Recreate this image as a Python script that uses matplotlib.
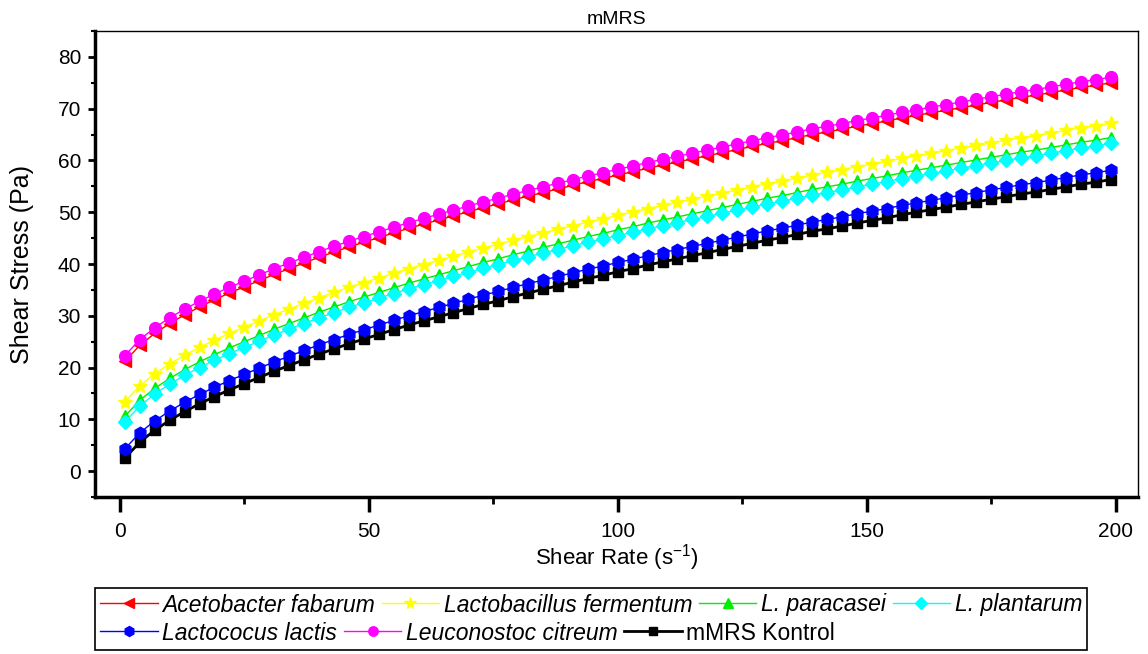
import matplotlib
matplotlib.use('Agg')
import matplotlib.pyplot as plt
from matplotlib.patches import Rectangle
from matplotlib.transforms import Bbox
from matplotlib.ticker import MultipleLocator

plt.rcParams['font.family'] = ['Liberation Sans', 'DejaVu Sans']
plt.rcParams['mathtext.fontset'] = 'custom'
plt.rcParams['mathtext.rm'] = 'Liberation Sans'
plt.rcParams['mathtext.it'] = 'Liberation Sans:italic'

# shear rate (1/s)
shear_rate = [1, 4, 7, 10, 13, 16, 19, 22, 25, 28, 31, 34, 37, 40, 43, 46, 49, 52, 55, 58,
              61, 64, 67, 70, 73, 76, 79, 82, 85, 88, 91, 94, 97, 100, 103, 106, 109, 112,
              115, 118, 121, 124, 127, 130, 133, 136, 139, 142, 145, 148, 151, 154, 157, 160,
              163, 166, 169, 172, 175, 178, 181, 184, 187, 190, 193, 196, 199]

# shear stress (Pa)
acetobacter = [21.2, 24.3, 26.6, 28.5, 30.2, 31.7, 33.1, 34.4, 35.6, 36.8, 38.0, 39.1, 40.2, 41.3,
               42.3, 43.3, 44.2, 45.1, 46.0, 46.9, 47.7, 48.5, 49.3, 50.1, 50.9, 51.6, 52.4, 53.1,
               53.8, 54.5, 55.2, 55.9, 56.5, 57.2, 57.8, 58.5, 59.1, 59.7, 60.3, 60.9, 61.5, 62.1,
               62.7, 63.3, 63.8, 64.4, 65.0, 65.5, 66.0, 66.6, 67.1, 67.6, 68.2, 68.7, 69.2, 69.7,
               70.2, 70.7, 71.2, 71.7, 72.2, 72.6, 73.1, 73.6, 74.1, 74.5, 75.0]
fermentum = [13.4, 16.5, 18.8, 20.7, 22.4, 23.9, 25.3, 26.6, 27.8, 29.0, 30.2, 31.3, 32.4, 33.5,
             34.5, 35.5, 36.4, 37.3, 38.2, 39.1, 39.9, 40.7, 41.5, 42.3, 43.1, 43.8, 44.6, 45.3,
             46.0, 46.7, 47.4, 48.1, 48.7, 49.4, 50.0, 50.7, 51.3, 51.9, 52.5, 53.1, 53.7, 54.3,
             54.9, 55.5, 56.0, 56.6, 57.2, 57.7, 58.2, 58.8, 59.3, 59.8, 60.4, 60.9, 61.4, 61.9,
             62.4, 62.9, 63.4, 63.9, 64.4, 64.8, 65.3, 65.8, 66.3, 66.7, 67.2]
paracasei = [10.6, 13.7, 16.0, 17.9, 19.6, 21.1, 22.5, 23.8, 25.0, 26.2, 27.4, 28.5, 29.6, 30.7,
             31.7, 32.7, 33.6, 34.5, 35.4, 36.3, 37.1, 37.9, 38.7, 39.5, 40.3, 41.0, 41.8, 42.5,
             43.2, 43.9, 44.6, 45.3, 45.9, 46.6, 47.2, 47.9, 48.5, 49.1, 49.7, 50.3, 50.9, 51.5,
             52.1, 52.7, 53.2, 53.8, 54.4, 54.9, 55.4, 56.0, 56.5, 57.0, 57.6, 58.1, 58.6, 59.1,
             59.6, 60.1, 60.6, 61.1, 61.6, 62.0, 62.5, 63.0, 63.5, 63.9, 64.4]
plantarum = [9.5, 12.6, 14.9, 16.8, 18.5, 20.0, 21.4, 22.7, 23.9, 25.1, 26.3, 27.4, 28.5, 29.6,
             30.6, 31.6, 32.5, 33.4, 34.3, 35.2, 36.0, 36.8, 37.6, 38.4, 39.2, 39.9, 40.7, 41.4,
             42.1, 42.8, 43.5, 44.2, 44.8, 45.5, 46.1, 46.8, 47.4, 48.0, 48.6, 49.2, 49.8, 50.4,
             51.0, 51.6, 52.1, 52.7, 53.3, 53.8, 54.3, 54.9, 55.4, 55.9, 56.5, 57.0, 57.5, 58.0,
             58.5, 59.0, 59.5, 60.0, 60.5, 60.9, 61.4, 61.9, 62.4, 62.8, 63.3]
lactis = [4.3, 7.4, 9.7, 11.6, 13.3, 14.8, 16.2, 17.5, 18.7, 19.9, 21.1, 22.2, 23.3, 24.4,
          25.4, 26.4, 27.3, 28.2, 29.1, 30.0, 30.8, 31.6, 32.4, 33.2, 34.0, 34.7, 35.5, 36.2,
          36.9, 37.6, 38.3, 39.0, 39.6, 40.3, 40.9, 41.6, 42.2, 42.8, 43.4, 44.0, 44.6, 45.2,
          45.8, 46.4, 46.9, 47.5, 48.1, 48.6, 49.1, 49.7, 50.2, 50.7, 51.3, 51.8, 52.3, 52.8,
          53.3, 53.8, 54.3, 54.8, 55.3, 55.7, 56.2, 56.7, 57.2, 57.6, 58.1]
citreum = [22.3, 25.4, 27.7, 29.6, 31.3, 32.8, 34.2, 35.5, 36.7, 37.9, 39.1, 40.2, 41.3, 42.4,
           43.4, 44.4, 45.3, 46.2, 47.1, 48.0, 48.8, 49.6, 50.4, 51.2, 52.0, 52.7, 53.5, 54.2,
           54.9, 55.6, 56.3, 57.0, 57.6, 58.3, 58.9, 59.6, 60.2, 60.8, 61.4, 62.0, 62.6, 63.2,
           63.8, 64.4, 64.9, 65.5, 66.1, 66.6, 67.1, 67.7, 68.2, 68.7, 69.3, 69.8, 70.3, 70.8,
           71.3, 71.8, 72.3, 72.8, 73.3, 73.7, 74.2, 74.7, 75.2, 75.6, 76.1]
kontrol = [2.5, 5.6, 7.9, 9.8, 11.5, 13.0, 14.4, 15.7, 16.9, 18.1, 19.3, 20.4, 21.5, 22.6,
           23.6, 24.6, 25.5, 26.4, 27.3, 28.2, 29.0, 29.8, 30.6, 31.4, 32.2, 32.9, 33.7, 34.4,
           35.1, 35.8, 36.5, 37.2, 37.8, 38.5, 39.1, 39.8, 40.4, 41.0, 41.6, 42.2, 42.8, 43.4,
           44.0, 44.6, 45.1, 45.7, 46.3, 46.8, 47.3, 47.9, 48.4, 48.9, 49.5, 50.0, 50.5, 51.0,
           51.5, 52.0, 52.5, 53.0, 53.5, 53.9, 54.4, 54.9, 55.4, 55.8, 56.3]

labels = ['Acetobacter fabarum', 'Lactobacillus fermentum', 'L. paracasei', 'L. plantarum',
          'Lactococus lactis', 'Leuconostoc citreum', 'mMRS Kontrol']

fig = plt.figure(figsize=(11.48, 6.54), dpi=100)
ax = fig.add_axes([95/1148, 1-497/654, (1138-95)/1148, (497-31)/654])

ms = 8.5
h1, = ax.plot(shear_rate, acetobacter, color='#ff0000', lw=1, marker='<', ms=ms, mec='#ff0000', zorder=2)
h2, = ax.plot(shear_rate, fermentum, color='#ffff00', lw=1, marker='*', ms=ms+2, mec='#ffff00', zorder=2)
h3, = ax.plot(shear_rate, paracasei, color='#00ee00', lw=1, marker='^', ms=ms, mec='#00ee00', zorder=2)
h4, = ax.plot(shear_rate, plantarum, color='#00ffff', lw=1, marker='D', ms=ms-1, mec='#00ffff', zorder=2)
h5, = ax.plot(shear_rate, lactis, color='#0000ff', lw=1, marker='h', ms=ms+0.5, mec='#0000ff', zorder=2)
h6, = ax.plot(shear_rate, citreum, color='#ff00ff', lw=1, marker='o', ms=ms, mec='#ff00ff', zorder=2)
h7, = ax.plot(shear_rate, kontrol, color='black', lw=2, marker='s', ms=ms-1, mec='black', zorder=1.9)

ax.set_xlim(-5, 204.5)
ax.set_ylim(-5, 85)
ax.xaxis.set_major_locator(MultipleLocator(50))
ax.xaxis.set_minor_locator(MultipleLocator(25))
ax.yaxis.set_major_locator(MultipleLocator(10))
ax.yaxis.set_minor_locator(MultipleLocator(5))

for s in ['left', 'bottom']:
    ax.spines[s].set_linewidth(2.5)
for s in ['top', 'right']:
    ax.spines[s].set_linewidth(1)

ax.tick_params(axis='x', which='major', length=11, width=2.5, pad=7, labelsize=15)
ax.tick_params(axis='x', which='minor', length=5, width=2)
ax.tick_params(axis='y', which='major', length=5, width=2, pad=5, labelsize=15)
ax.tick_params(axis='y', which='minor', length=3, width=1.5)

ax.set_xlabel('Shear Rate (s$^{-1}$)', fontsize=16, labelpad=1)
ax.set_ylabel('Shear Stress (Pa)', fontsize=18, labelpad=17)
ax.set_title('mMRS', fontsize=14, pad=5)

handles = [h1, h2, h3, h4, h5, h6, h7]
leg_kw = dict(frameon=False, fontsize=16.5, handlelength=2.5, handletextpad=0.2,
              columnspacing=0.3, borderpad=0.1, borderaxespad=0, markerscale=0.8,
              loc='center left')
leg1 = fig.legend(handles[:4], labels[:4], ncol=4, bbox_to_anchor=(98/1148, 1-605/654), **leg_kw)
leg2 = fig.legend(handles[4:], labels[4:], ncol=3, bbox_to_anchor=(98/1148, 1-633/654), **leg_kw)
for t in leg1.get_texts():
    t.set_fontstyle('italic')
for t in leg2.get_texts()[:2]:
    t.set_fontstyle('italic')

fig.canvas.draw()
r = fig.canvas.get_renderer()
bb = Bbox.union([leg1.get_window_extent(r), leg2.get_window_extent(r)])
bb = bb.transformed(fig.transFigure.inverted())
pad_x, pad_y = 3/1148, 3/654
fig.patches.append(Rectangle((bb.x0 - pad_x, bb.y0 - pad_y), bb.width + 2*pad_x, bb.height + 2*pad_y,
                             fill=False, lw=1.2, edgecolor='black', transform=fig.transFigure))

plt.savefig('out.png', dpi=100)
